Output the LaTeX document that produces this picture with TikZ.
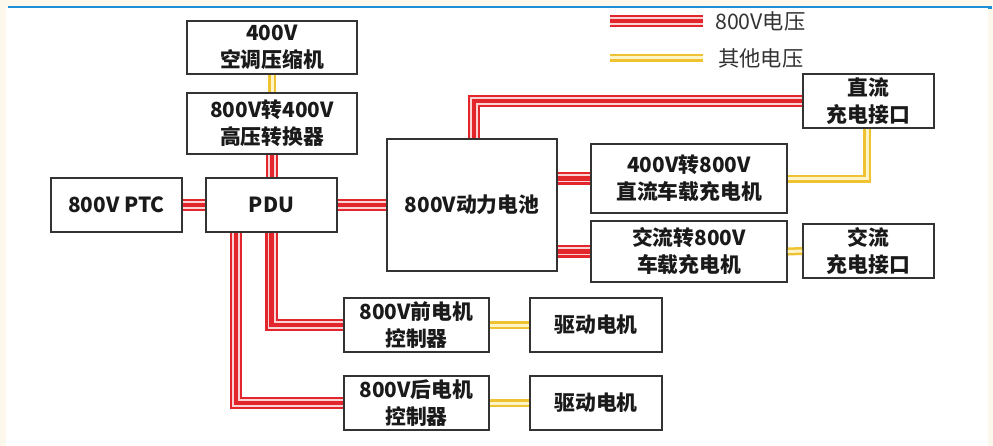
\documentclass[tikz,border=0pt]{standalone}
\usepackage{fontspec}
\setmainfont{Noto Sans CJK SC}
\definecolor{redL}{HTML}{E2262C}
\definecolor{pinkL}{HTML}{FAD4D4}
\definecolor{yelL}{HTML}{EFC232}
\definecolor{yelM}{HTML}{FFF4C8}
\definecolor{boxline}{HTML}{333333}
\definecolor{txt}{HTML}{1A1A1A}
\definecolor{legtxt}{HTML}{333333}
\definecolor{cream}{HTML}{FDF8EC}
\definecolor{blueL}{HTML}{1C8FD6}
\begin{document}
\begin{tikzpicture}[x=1pt,y=-1pt,
  box/.style n args={2}{draw=boxline, line width=1.8pt, fill=white, minimum width=#1, minimum height=#2, inner sep=0pt, align=center, font=\fontsize{20.8}{27}\selectfont\bfseries, text=txt},
  hv/.style={draw=redL, line width=12.5pt, line join=miter,
    postaction={draw=pinkL, line width=8pt, line join=miter},
    postaction={draw=redL, line width=4.5pt, line join=miter}},
  lo/.style={draw=yelL, line width=8pt, line join=miter,
    postaction={draw=yelM, line width=3pt, line join=miter}},
  legtext/.style={anchor=west, inner sep=0pt, font=\fontsize{21.3}{24}\selectfont, text=legtxt}
]
\useasboundingbox (0,0) rectangle (993,446);
\fill[cream] (0,0) rectangle (993,446);
\fill[white] (6,8) rectangle (988,446);
\draw[blueL, line width=2pt] (8,7.5) -- (992,7.5);
\fill[blueL] (988,7) rectangle (992,9.5);

% boxes
\node[box={170}{53}] (ac) at (272,47.5) {400V\\空调压缩机};
\node[box={170}{61}] (conv) at (272,123.5) {800V转400V\\高压转换器};
\node[box={131}{54}] (ptc) at (116.5,205) {800V PTC};
\node[box={131}{54}] (pdu) at (271.5,205) {PDU};
\node[box={170}{132}] (bat) at (472,205) {800V动力电池};
\node[box={196}{69}] (dcobc) at (689,178.5) {400V转800V\\直流车载充电机};
\node[box={196}{61}] (acobc) at (689,251.5) {交流转800V\\车载充电机};
\node[box={131}{54}] (dcport) at (868.5,101) {直流\\充电接口};
\node[box={131}{54}] (acport) at (868.5,251) {交流\\充电接口};
\node[box={145}{54}] (fctrl) at (416.5,325) {800V前电机\\控制器};
\node[box={132}{54}] (fmot) at (596,325) {驱动电机};
\node[box={145}{54}] (rctrl) at (416.5,403) {800V后电机\\控制器};
\node[box={132}{54}] (rmot) at (596,403) {驱动电机};

% connectors
\draw[lo] (ac.south) -- (conv.north);
\draw[hv] (conv.south) -- (pdu.north -| conv.south);
\draw[hv] (ptc.east) -- (pdu.west);
\draw[hv] (pdu.east) -- (bat.west);
\draw[hv] ([xshift=2pt]bat.north) |- (dcport.west);
\draw[hv] (bat.east |- dcobc.west) -- (dcobc.west);
\draw[hv] (bat.east |- acobc.west) -- (acobc.west);
\draw[lo] ([yshift=-0.5pt]dcobc.east) -| (dcport.south -| 867,0);
\draw[lo] (acobc.east) -- (acport.west);
\draw[hv] (pdu.south) |- (fctrl.west);
\draw[hv] ([xshift=-35.5pt]pdu.south) |- (rctrl.west);
\draw[lo] (fctrl.east) -- (fmot.west);
\draw[lo] (rctrl.east) -- (rmot.west);

% legend
\coordinate (r1) at (610,21);
\coordinate (r2) at (703,21);
\coordinate (y1) at (610,58);
\coordinate (y2) at (703,58);
\draw[hv] (r1) -- (r2);
\draw[lo] (y1) -- (y2);
\node[legtext] (lr) at (715,21) {800V电压};
\node[legtext] (ly) at (718,58) {其他电压};
\end{tikzpicture}
\end{document}
